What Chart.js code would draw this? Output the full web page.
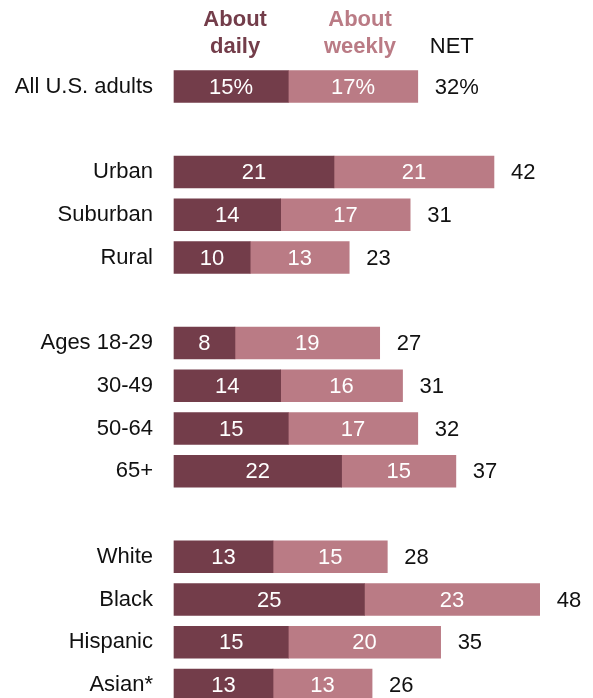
<!DOCTYPE html>
<html>
<head>
<meta charset="utf-8">
<script src="https://cdn.jsdelivr.net/npm/chart.js@4"></script>
<style>
  html, body { margin: 0; padding: 0; background: #fff; }
  #wrap { width: 593px; height: 698px; position: relative; }
</style>
</head>
<body>
<div id="wrap"><canvas id="chart"></canvas></div>
<script>
// rows; empty strings are the spacer rows between groups
const categories = ['All U.S. adults', '', 'Urban', 'Suburban', 'Rural', '', 'Ages 18-29', '30-49', '50-64', '65+', '', 'White', 'Black', 'Hispanic', 'Asian*'];
const daily  = [15, null, 21, 14, 10, null, 8, 14, 15, 22, null, 13, 25, 15, 13];
const weekly = [17, null, 21, 17, 13, null, 19, 16, 17, 15, null, 15, 23, 20, 13];
const net    = [32, null, 42, 31, 23, null, 27, 31, 32, 37, null, 28, 48, 35, 26];

const DARK = '#733d4a';
const LIGHT = '#ba7b85';
const FONT = 'Arial, "Liberation Sans", sans-serif';

// in-bar values, NET column and the header row
const labelsPlugin = {
  id: 'labels',
  afterDatasetsDraw(chart) {
    const ctx = chart.ctx;
    const x = chart.scales.x;
    ctx.save();
    ctx.font = '22px ' + FONT;
    ctx.textBaseline = 'middle';

    chart.data.datasets.forEach((ds, di) => {
      chart.getDatasetMeta(di).data.forEach((bar, i) => {
        if (ds.data[i] == null) return;
        const pct = i === 0 ? '%' : '';
        ctx.fillStyle = '#fff';
        ctx.textAlign = 'center';
        ctx.fillText(ds.data[i] + pct, (bar.x + bar.base) / 2, bar.y + 1);
        if (di === 1) {
          ctx.fillStyle = '#111';
          ctx.textAlign = 'left';
          ctx.fillText(net[i] + pct, bar.x + 17, bar.y + 1);
        }
      });
    });

    // column headers over the first row
    const dCenter = x.getPixelForValue(daily[0] / 2);
    const wCenter = x.getPixelForValue(daily[0] + weekly[0] / 2) + 7;
    ctx.textAlign = 'center';
    ctx.font = 'bold 22px ' + FONT;
    ctx.fillStyle = DARK;
    ctx.fillText('About', dCenter + 4, 20);
    ctx.fillText('daily', dCenter + 4, 47);
    ctx.fillStyle = LIGHT;
    ctx.fillText('About', wCenter, 20);
    ctx.fillText('weekly', wCenter, 47);
    ctx.font = '22px ' + FONT;
    ctx.fillStyle = '#111';
    ctx.textAlign = 'left';
    ctx.fillText('NET', x.getPixelForValue(net[0]) + 12, 47);
    ctx.restore();
  }
};

new Chart(document.getElementById('chart'), {
  type: 'bar',
  data: {
    labels: categories,
    datasets: [
      { label: 'About daily', data: daily, backgroundColor: DARK, barThickness: 32, clip: false },
      { label: 'About weekly', data: weekly, backgroundColor: LIGHT, barThickness: 32, clip: false }
    ]
  },
  options: {
    indexAxis: 'y',
    responsive: true,
    maintainAspectRatio: false,
    animation: false,
    layout: { padding: { top: 86.5, bottom: 13, left: 0, right: 0 } },
    scales: {
      x: {
        stacked: true,
        min: 0,
        max: 55,
        display: false
      },
      y: {
        stacked: true,
        offset: false,
        grid: { display: false, drawTicks: false },
        border: { display: false },
        ticks: {
          color: '#111',
          padding: 21,
          font: { size: 22, family: FONT }
        },
        afterFit(scale) {
          scale.width = 174;
          scale.paddingTop = 0;
          scale.paddingBottom = 0;
        }
      }
    },
    plugins: {
      legend: { display: false },
      tooltip: { enabled: false }
    }
  },
  plugins: [labelsPlugin]
});
</script>
</body>
</html>
